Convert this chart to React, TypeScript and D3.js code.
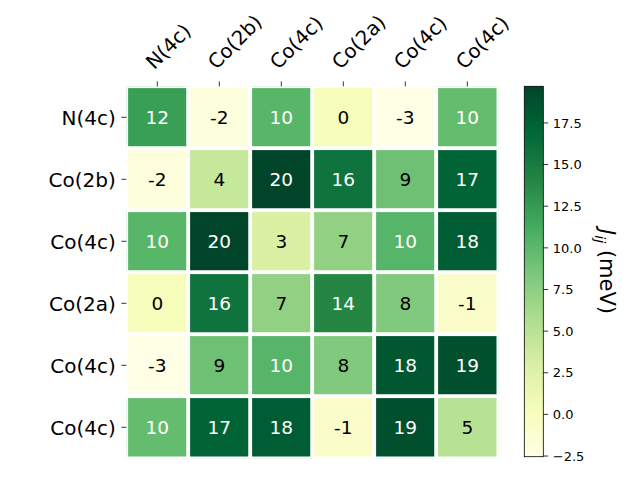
import React from "react";
import * as d3 from "d3";

const colLabels = ["N(4c)", "Co(2b)", "Co(4c)", "Co(2a)", "Co(4c)", "Co(4c)"];
const rowLabels = ["N(4c)", "Co(2b)", "Co(4c)", "Co(2a)", "Co(4c)", "Co(4c)"];

const row0 = [12.2, -2.0, 10.2, 0.3, -2.54, 9.6];
const row1 = [-2.0, 4.2, 19.7, 15.8, 9.1, 17.2];
const row2 = [10.2, 19.7, 2.9, 7.2, 10.3, 17.8];
const row3 = [0.3, 15.8, 7.2, 14.0, 8.1, -0.8];
const row4 = [-2.54, 9.1, 10.3, 8.1, 18.3, 18.8];
const row5 = [9.6, 17.2, 17.8, -0.8, 18.8, 5.1];
const matrix = [row0, row1, row2, row3, row4, row5];

const cbarTicks = [-2.5, 0.0, 2.5, 5.0, 7.5, 10.0, 12.5, 15.0, 17.5];

const ylgn = ["#ffffe5", "#f7fcb9", "#d9f0a3", "#addd8e", "#78c679", "#41ab5d", "#238443", "#006837", "#004529"];

const FONT = "DejaVu Sans, sans-serif";

function luminance(c: string) {
  const rgb = d3.rgb(c);
  const f = (v: number) => {
    const s = v / 255;
    return s <= 0.03928 ? s / 12.92 : Math.pow((s + 0.055) / 1.055, 2.4);
  };
  return 0.2126 * f(rgb.r) + 0.7152 * f(rgb.g) + 0.0722 * f(rgb.b);
}

export default function App() {
  const W = 640, H = 480;
  const left = 126.3, top = 86.3, size = 372;
  const all = matrix.flat();
  const vmin = d3.min(all)!;
  const vmax = d3.max(all)!;
  const t = d3.scaleLinear().domain([vmin, vmax]).range([0, 1]);
  const color = d3
    .scaleLinear<string>()
    .domain(ylgn.map((_, i) => i / (ylgn.length - 1)))
    .range(ylgn)
    .interpolate(d3.interpolateRgb)
    .clamp(true);
  const col = (v: number) => color(t(v));

  const x = d3.scaleBand<number>().domain(d3.range(6)).range([left, left + size]).padding(0);
  const y = d3.scaleBand<number>().domain(d3.range(6)).range([top, top + size]).padding(0);
  const bw = x.bandwidth();

  const cbX = 524.3, cbW = 19, cbTop = 86.3, cbBot = 456.7;
  const cy = d3.scaleLinear().domain([vmin, vmax]).range([cbBot, cbTop]);
  const stops = d3.range(0, 1.0001, 0.02);

  return (
    <svg width={W} height={H} style={{ position: "absolute", left: 0, top: 0 }}>
      <defs>
        <clipPath id="axclip">
          <rect x={left} y={top} width={size} height={size} />
        </clipPath>
        <linearGradient id="cbgrad" x1="0" y1="1" x2="0" y2="0">
          {stops.map((s, i) => (
            <stop key={i} offset={s} stopColor={color(s)} />
          ))}
        </linearGradient>
      </defs>
      <rect width={W} height={H} fill="white" />
      <g clipPath="url(#axclip)">
        {matrix.map((r, i) =>
          r.map((v, j) => (
            <rect
              key={`${i}-${j}`}
              x={x(j)}
              y={y(i)}
              width={bw}
              height={bw}
              fill={col(v)}
              stroke="white"
              strokeWidth={3.6}
            />
          ))
        )}
      </g>
      {matrix.map((r, i) =>
        r.map((v, j) => (
          <text
            key={`t${i}-${j}`}
            x={x(j)! + bw / 2}
            y={y(i)! + bw / 2}
            dy="0.36em"
            textAnchor="middle"
            fontFamily={FONT}
            fontSize={18.5}
            fill={luminance(col(v)) < 0.408 ? "#ffffff" : "#000000"}
          >
            {String(Math.round(v))}
          </text>
        ))
      )}
      {/* top ticks */}
      {colLabels.map((l, j) => {
        const cx = x(j)! + bw / 2;
        return (
          <g key={`c${j}`}>
            <line x1={cx} x2={cx} y1={top} y2={top - 4.9} stroke="#000" strokeWidth={0.8} />
            <text
              transform={`translate(${cx - 3},${top - 16}) rotate(-45)`}
              fontFamily={FONT}
              fontSize={19.8}
              fill="#000"
            >
              {l}
            </text>
          </g>
        );
      })}
      {/* left ticks */}
      {rowLabels.map((l, i) => {
        const cyy = y(i)! + bw / 2;
        return (
          <g key={`r${i}`}>
            <line x1={left} x2={left - 4.9} y1={cyy} y2={cyy} stroke="#000" strokeWidth={0.8} />
            <text
              x={left - 10.5}
              y={cyy}
              dy="0.36em"
              textAnchor="end"
              fontFamily={FONT}
              fontSize={20}
              fill="#000"
            >
              {l}
            </text>
          </g>
        );
      })}
      {/* colorbar */}
      <rect x={cbX} y={cbTop} width={cbW} height={cbBot - cbTop} fill="url(#cbgrad)" stroke="#000" strokeWidth={0.8} />
      {cbarTicks.map((v) => (
        <g key={`cb${v}`}>
          <line x1={cbX + cbW} x2={cbX + cbW + 4.9} y1={cy(v)} y2={cy(v)} stroke="#000" strokeWidth={0.8} />
          <text
            x={cbX + cbW + 9.5}
            y={cy(v)}
            dy="0.36em"
            fontFamily={FONT}
            fontSize={13}
            fill="#000"
          >
            {v < 0 ? "\u2212" + Math.abs(v).toFixed(1) : v.toFixed(1)}
          </text>
        </g>
      ))}
      <text
        transform={`translate(600,${(cbTop + cbBot) / 2}) rotate(90)`}
        textAnchor="middle"
        fontFamily={FONT}
        fontSize={21}
        fill="#000"
      >
        <tspan fontStyle="italic">J</tspan>
        <tspan fontStyle="italic" fontSize={14.5} dy={5}>ij</tspan>
        <tspan dy={-5}> (meV)</tspan>
      </text>
    </svg>
  );
}
